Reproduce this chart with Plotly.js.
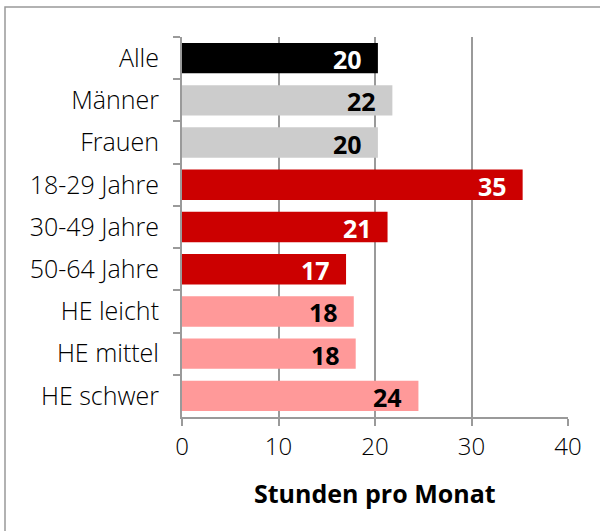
<!DOCTYPE html>
<html><head><meta charset="utf-8">
<script src="https://cdn.plot.ly/plotly-3.0.1.min.js"></script>
<style>body{margin:0;background:#fff}#c{width:600px;height:531px}</style>
</head><body><div id="c"></div>
<script>
const categories = ["Alle","Männer","Frauen","18-29 Jahre","30-49 Jahre","50-64 Jahre","HE leicht","HE mittel","HE schwer"];
const values = [20.3, 21.8, 20.3, 35.3, 21.3, 17.0, 17.8, 18.0, 24.5];
const labels = ["20","22","20","35","21","17","18","18","24"];
const barColors = ["#000000","#cccccc","#cccccc","#cc0000","#cc0000","#cc0000","#ff9999","#ff9999","#ff9999"];
const labelColors = ["#ffffff","#000000","#000000","#ffffff","#ffffff","#ffffff","#000000","#000000","#000000"];
const xTicks = [0,10,20,30,40];

const FONT = "Open Sans, Noto Sans, sans-serif";
const L=182, R=568, T=37, B=417, W=600, H=531;
const pw=R-L, ph=B-T;

const annotations = categories.map((c,i)=>({
  x: values[i], y: c, xref:'x', yref:'y', text: labels[i], showarrow:false,
  xanchor:'right', xshift:-14, yshift:-1,
  font:{family:FONT, size:25, color:labelColors[i], weight:'bold'}
}));
annotations.push({
  xref:'paper', yref:'paper', x:0.5, y:-(493-B)/ph, yanchor:'middle', xanchor:'center',
  text:'<b>Stunden pro Monat</b>', showarrow:false,
  font:{family:FONT, size:25, color:'#000'}
});

Plotly.newPlot('c', [{
  type:'bar', orientation:'h', x:values, y:categories,
  marker:{color:barColors, line:{width:0}}, hoverinfo:'none'
}], {
  width:W, height:H,
  margin:{l:L, r:W-R, t:T, b:H-B, pad:0},
  paper_bgcolor:'#fff', plot_bgcolor:'#fff',
  bargap:0.28, showlegend:false,
  xaxis:{range:[0,40], tickvals:xTicks, ticktext:xTicks.map(String),
    showgrid:true, gridcolor:'#9a9a9a', gridwidth:2, zeroline:false,
    showline:true, linecolor:'#9a9a9a', linewidth:2,
    ticks:'outside', ticklen:7, tickwidth:2, tickcolor:'#9a9a9a',
    tickfont:{family:FONT, size:24, color:'#000', weight:300}, fixedrange:true},
  yaxis:{autorange:'reversed', type:'category',
    showline:true, linecolor:'#9a9a9a', linewidth:2,
    ticks:'outside', ticklen:7, tickwidth:2, tickcolor:'#9a9a9a', tickson:'boundaries',
    showgrid:false, ticklabelstandoff:16,
    tickfont:{family:FONT, size:25, color:'#000', weight:300}, fixedrange:true},
  annotations: annotations,
  shapes:[{type:'rect', xref:'paper', yref:'paper',
    x0:(5-L)/pw, x1:(610-L)/pw, y0:-(545-B)/ph, y1:1+(T-7)/ph,
    line:{color:'#999', width:1.5}, fillcolor:'rgba(0,0,0,0)', layer:'below'}]
}, {displayModeBar:false, staticPlot:true});
</script></body></html>
